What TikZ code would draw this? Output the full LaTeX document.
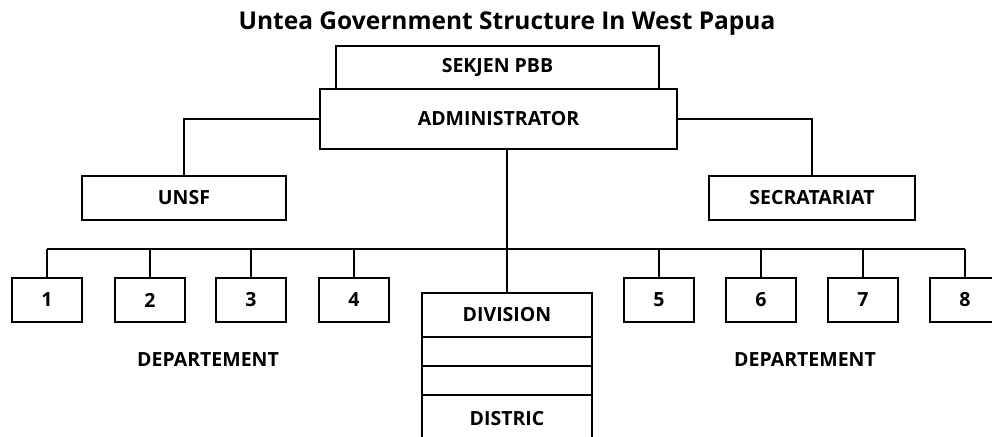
\documentclass[tikz,border=0pt]{standalone}
\usepackage{fontspec}
\setmainfont{Open Sans}
\usetikzlibrary{positioning}

\tikzset{
    orgbox/.style={draw, rectangle, line width=2pt, fill=white, inner sep=0pt,
        font=\fontsize{19.5}{22}\selectfont\bfseries},
    deptbox/.style={orgbox, minimum width=70pt, minimum height=44pt},
    plain/.style={font=\fontsize{19.5}{22}\selectfont\bfseries, inner sep=0pt},
    link/.style={line width=2pt}
}

\begin{document}
\begin{tikzpicture}[x=1pt, y=-1pt]
    \useasboundingbox (0,0) rectangle (992,436);
    \clip (0,0) rectangle (992,436);

    \node[font=\fontsize{24.5}{28}\selectfont\bfseries] (title) at (507,24) {Untea Government Structure In West Papua};

    % top of the structure
    \node[orgbox, minimum width=323pt, minimum height=43pt] (sekjen) at (497.5,67.5) {SEKJEN PBB};
    \node[orgbox, minimum width=357pt, minimum height=60pt] (admin) at (498.5,119) {ADMINISTRATOR};
    \node[orgbox, minimum width=204pt, minimum height=44pt] (unsf) at (184,198) {UNSF};
    \node[orgbox, minimum width=206pt, minimum height=44pt] (secr) at (812,198) {SECRATARIAT};

    \draw[link] (admin.west) -| (unsf.north);
    \draw[link] (admin.east) -| (secr.north);

    % division column
    \node[orgbox, minimum width=170pt, minimum height=44pt] (div) at (507,315) {DIVISION};
    \node[orgbox, minimum width=170pt, minimum height=29pt] (sub1) at (507,351.5) {};
    \node[orgbox, minimum width=170pt, minimum height=29pt] (sub2) at (507,380.5) {};
    \node[orgbox, minimum width=170pt, minimum height=48pt] (distric) at (507,419) {DISTRIC};

    % departements
    \coordinate (bus) at (0,249);
    \foreach \i/\x in {1/47, 2/150, 3/251, 4/354, 5/659, 6/761, 7/863, 8/965} {
        \node[deptbox] (d\i) at (\x,300) {\i};
        \draw[link] (d\i.north) -- (d\i.north |- bus);
    }
    \draw[link] (d1.north |- bus) -- (d8.north |- bus);
    \draw[link] (admin.south -| div.north) -- (div.north);

    \node[plain] (deptleft) at (208,360) {DEPARTEMENT};
    \node[plain] (deptright) at (805,360) {DEPARTEMENT};
\end{tikzpicture}
\end{document}
